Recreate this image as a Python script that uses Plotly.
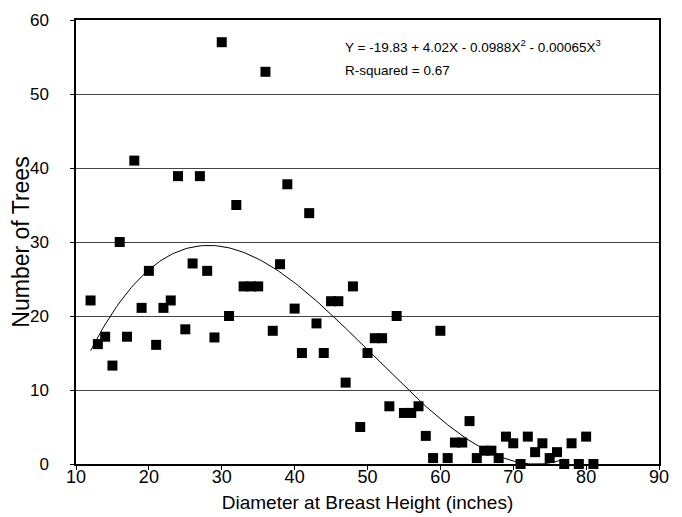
import numpy as np
import plotly.graph_objects as go

# Data
diameter = list(range(12, 82))
trees = [22.1, 16.2, 17.2, 13.3, 30, 17.2, 41, 21.1, 26.1, 16.1,
         21.1, 22.1, 38.9, 18.2, 27.1, 38.9, 26.1, 17.1, 57, 20,
         35, 24, 24, 24, 53, 18, 27, 37.8, 21, 15,
         33.9, 19, 15, 22, 22, 11, 24, 5, 15, 17,
         17, 7.8, 20, 6.9, 6.9, 7.8, 3.8, 0.8, 18, 0.8,
         2.9, 2.9, 5.8, 0.8, 1.8, 1.8, 0.8, 3.7, 2.8, 0,
         3.7, 1.6, 2.8, 0.8, 1.6, 0, 2.8, 0, 3.7, 0]

# Fitted cubic (coefficients as printed; curve drawn with cubic term positive)
coef = [-19.83, 4.02, -0.0988, 0.00065]
fit_x = np.linspace(12, 77, 200)
fit_y = coef[0] + coef[1] * fit_x + coef[2] * fit_x**2 + coef[3] * fit_x**3

x_ticks = [10, 20, 30, 40, 50, 60, 70, 80, 90]
y_ticks = [0, 10, 20, 30, 40, 50, 60]

FONT = "Liberation Sans, Arial, sans-serif"

fig = go.Figure()
fig.add_trace(go.Scatter(x=fit_x, y=fit_y, mode="lines",
                         line=dict(color="black", width=1), hoverinfo="skip"))
fig.add_trace(go.Scatter(x=diameter, y=trees, mode="markers",
                         marker=dict(symbol="square", size=10, color="black",
                                     line=dict(width=0)),
                         cliponaxis=False))

fig.add_annotation(x=0, y=1, xref="paper", yref="paper", xanchor="left", yanchor="middle",
                   xshift=267, yshift=-26, align="left", showarrow=False,
                   text="Y = -19.83 + 4.02X - 0.0988X<sup>2</sup> - 0.00065X<sup>3</sup>",
                   font=dict(family=FONT, size=13.5, color="black"))
fig.add_annotation(x=0, y=1, xref="paper", yref="paper", xanchor="left", yanchor="middle",
                   xshift=267, yshift=-50, align="left", showarrow=False,
                   text="R-squared = 0.67",
                   font=dict(family=FONT, size=13.5, color="black"))

# page body adds an 8px offset, so the figure is sized to fit the 682x517 window
fig.update_layout(
    width=674, height=509,
    margin=dict(l=68, r=23, t=12, b=53),
    paper_bgcolor="white", plot_bgcolor="white",
    showlegend=False,
    font=dict(family=FONT, color="black"),
)
fig.update_xaxes(range=[10, 90], tickvals=x_ticks, ticktext=[str(v) for v in x_ticks],
                 automargin=False,
                 showgrid=False, zeroline=False,
                 showline=True, linecolor="black", linewidth=1.5, mirror=True,
                 ticks="outside", ticklen=4, tickcolor="black",
                 ticklabelstandoff=-8,
                 tickfont=dict(size=18, family=FONT),
                 title=dict(text="Diameter at Breast Height (inches)",
                            font=dict(size=19, family=FONT), standoff=9))
fig.update_yaxes(range=[0, 60], tickvals=y_ticks, ticktext=[str(v) for v in y_ticks],
                 automargin=False,
                 showgrid=True, gridcolor="#444444", gridwidth=1, zeroline=False,
                 showline=True, linecolor="black", linewidth=1.5, mirror=True,
                 ticks="outside", ticklen=4, tickcolor="black",
                 ticklabelstandoff=18,
                 tickfont=dict(size=17, family=FONT),
                 title=dict(text="Number of Trees", font=dict(size=23, family=FONT), standoff=6))

fig.write_html("out.html")
